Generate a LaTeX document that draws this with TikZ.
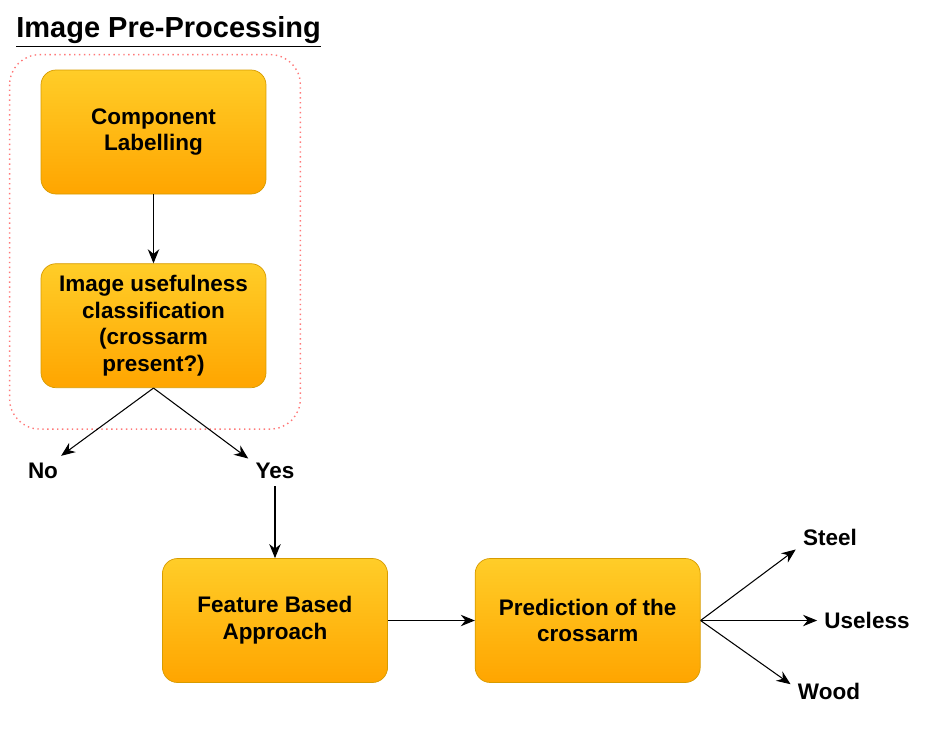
\documentclass[tikz,border=0pt]{standalone}
\usepackage{fontspec}
\setmainfont{Liberation Sans}
\usetikzlibrary{positioning,arrows.meta}

\definecolor{boxTop}{RGB}{255,205,40}
\definecolor{boxBottom}{RGB}{255,165,0}
\definecolor{boxLine}{RGB}{215,155,0}
\definecolor{groupLine}{RGB}{255,120,120}

\tikzstyle{procNode} = [rectangle, rounded corners=0.3cm, minimum width=4.5cm, minimum height=2.48cm, align=center, draw=boxLine, top color=boxTop, bottom color=boxBottom, font=\fontsize{12.8}{15.3}\selectfont\bfseries]
\tikzstyle{outNode} = [inner sep=4pt, font=\fontsize{12.8}{15.3}\selectfont\bfseries]
\tikzstyle{arrow} = [line width=0.6pt,-{Stealth[length=8pt,width=6.5pt]}]
\tikzstyle{groupBox} = [draw=groupLine, dotted, line width=0.8pt, rounded corners=0.6cm]

\begin{document}
\begin{tikzpicture}
    \useasboundingbox (0,0) rectangle (18.8,-14.78);

    \node (title)[anchor=base west, inner sep=0pt, font=\fontsize{16.5}{20}\selectfont\bfseries] at (0.32,-0.76) {\underline{Image Pre-Processing}};
    \node (comp)[procNode] at (3.07,-2.64) {Component \\ Labelling};
    \node (useful)[procNode, below=1.38cm of comp] {Image usefulness \\ classification \\ (crossarm \\ present?)};
    \node (no)[outNode] at (0.86,-9.42) {No};
    \node (yes)[outNode] at (5.5,-9.42) {Yes};
    \node (feature)[procNode] at (5.5,-12.41) {Feature Based \\ Approach};
    \node (pred)[procNode, right=1.74cm of feature] {Prediction of the \\ crossarm};
    \node (steel)[outNode] at (16.6,-10.74) {Steel};
    \node (useless)[outNode] at (17.34,-12.41) {Useless};
    \node (wood)[outNode] at (16.58,-13.82) {Wood};

    \draw [groupBox] ([xshift=-0.62cm,yshift=0.3cm]comp.north west) rectangle ([xshift=0.68cm,yshift=-0.82cm]useful.south east);

    \draw [arrow] (comp) -- (useful);
    \draw [arrow] (useful.south) -- (no.40);
    \draw [arrow] (useful.south) -- (yes.155);
    \draw [arrow] (yes) -- (feature);
    \draw [arrow] (feature) -- (pred);
    \draw [arrow] (pred.east) -- (steel.200);
    \draw [arrow] (pred.east) -- (useless.west);
    \draw [arrow] (pred.east) -- (wood.170);

\end{tikzpicture}
\end{document}
